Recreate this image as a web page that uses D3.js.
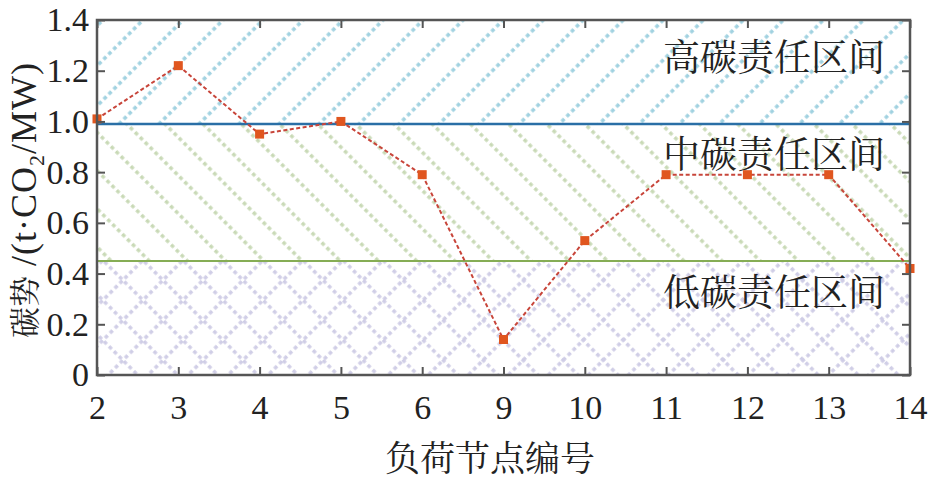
<!DOCTYPE html>
<html><head><meta charset="utf-8">
<script src="https://cdn.jsdelivr.net/npm/d3@7"></script>
<style>body{margin:0;background:#fff}
.serif{font-family:"Liberation Serif","Times New Roman","DejaVu Serif",serif}
.cjk{font-family:"Noto Serif CJK SC","Noto Sans CJK SC",sans-serif}
</style>
</head><body>
<svg id="c" width="947" height="480"></svg>
<script>
const categories = ["2","3","4","5","6","9","10","11","12","13","14"];
const values = [1.01,1.22,0.95,1.00,0.79,0.14,0.53,0.79,0.79,0.79,0.42];
const yTicks = [0,0.2,0.4,0.6,0.8,1.0,1.2,1.4];
const yTickLabels = ["0","0.2","0.4","0.6","0.8","1.0","1.2","1.4"];
const highThreshold = 0.99;
const lowThreshold = 0.45;
const zoneLabels = ["高碳责任区间","中碳责任区间","低碳责任区间"];
const zoneLabelValues = [1.262, 0.879, 0.335];
const xTitle = "负荷节点编号";

const svg = d3.select("#c");
const m = {l:97, r:910, t:20, b:375};
const x = d3.scalePoint().domain(categories).range([m.l, m.r]);
const y = d3.scaleLinear().domain([0,1.4]).range([m.b, m.t]);

const defs = svg.append("defs");
function linePattern(id, color, angle, spacing){
  const p = defs.append("pattern").attr("id", id).attr("patternUnits","userSpaceOnUse")
    .attr("width", spacing).attr("height", 14)
    .attr("patternTransform", `rotate(${angle})`);
  p.append("line").attr("x1",2).attr("x2",2).attr("y1",0).attr("y2",14)
    .attr("stroke", color).attr("stroke-width",3.4).attr("stroke-dasharray","3.8,3.2");
  return p;
}
linePattern("pBlue", "#9fd1e0", 45, 28.3);
linePattern("pGreen", "#c8d9b5", -45, 27);
linePattern("pPurpleA", "#cfcde6", 45, 28.3);
linePattern("pPurpleB", "#cfcde6", -45, 28.3);

const g = svg.append("g");
g.append("rect").attr("x",m.l).attr("width",m.r-m.l).attr("y",y(1.4)).attr("height",y(highThreshold)-y(1.4)).attr("fill","url(#pBlue)");
g.append("rect").attr("x",m.l).attr("width",m.r-m.l).attr("y",y(highThreshold)).attr("height",y(lowThreshold)-y(highThreshold)).attr("fill","url(#pGreen)");
g.append("rect").attr("x",m.l).attr("width",m.r-m.l).attr("y",y(lowThreshold)).attr("height",y(0)-y(lowThreshold)).attr("fill","url(#pPurpleA)");
g.append("rect").attr("x",m.l).attr("width",m.r-m.l).attr("y",y(lowThreshold)).attr("height",y(0)-y(lowThreshold)).attr("fill","url(#pPurpleB)");

g.append("line").attr("x1",m.l).attr("x2",m.r).attr("y1",y(highThreshold)).attr("y2",y(highThreshold))
  .attr("stroke","#2a6fa6").attr("stroke-width",2.5);
g.append("line").attr("x1",m.l).attr("x2",m.r).attr("y1",y(lowThreshold)).attr("y2",y(lowThreshold))
  .attr("stroke","#86ad55").attr("stroke-width",2);

g.selectAll("text.zone").data(zoneLabels).join("text").attr("class","zone cjk")
  .attr("x", 774).attr("y",(d,i)=>y(zoneLabelValues[i]))
  .attr("text-anchor","middle").attr("dominant-baseline","central")
  .attr("font-size",37).attr("fill","#222").text(d=>d);

const line = d3.line().x((d,i)=>x(categories[i])).y(d=>y(d));
g.append("path").datum(values).attr("d",line).attr("fill","none")
  .attr("stroke","#c8453a").attr("stroke-width",2).attr("stroke-dasharray","4,2.5");
g.selectAll("rect.mk").data(values).join("rect").attr("class","mk")
  .attr("x",(d,i)=>x(categories[i])-4.5).attr("y",d=>y(d)-4.5)
  .attr("width",9).attr("height",9).attr("fill","#e0561f");

const axisColor = "#555";
const tl = 8;
function styleText(s){
  s.attr("font-family", null);
  s.selectAll("text").attr("class","serif").attr("font-size",34).attr("fill","#222");
}
const ax = svg.append("g");
ax.append("g").attr("transform",`translate(0,${m.b})`)
  .call(d3.axisBottom(x).tickSizeInner(-tl).tickSizeOuter(0).tickPadding(20))
  .call(s=>{s.select(".domain").remove();
    s.selectAll("line").attr("stroke",axisColor).attr("stroke-width",2); styleText(s);});
ax.append("g").attr("transform",`translate(0,${m.t})`)
  .call(d3.axisTop(x).tickSizeInner(-tl).tickSizeOuter(0).tickFormat(""))
  .call(s=>{s.select(".domain").remove(); s.selectAll("line").attr("stroke",axisColor).attr("stroke-width",2);});
ax.append("g").attr("transform",`translate(${m.l},0)`)
  .call(d3.axisLeft(y).tickValues(yTicks).tickFormat((d,i)=>yTickLabels[i]).tickSizeInner(-tl).tickSizeOuter(0).tickPadding(8))
  .call(s=>{s.select(".domain").remove();
    s.selectAll("line").attr("stroke",axisColor).attr("stroke-width",2); styleText(s);});
ax.append("g").attr("transform",`translate(${m.r},0)`)
  .call(d3.axisRight(y).tickValues(yTicks).tickFormat("").tickSizeInner(-tl).tickSizeOuter(0))
  .call(s=>{s.select(".domain").remove(); s.selectAll("line").attr("stroke",axisColor).attr("stroke-width",2);});
ax.append("rect").attr("x",m.l).attr("y",m.t).attr("width",m.r-m.l).attr("height",m.b-m.t)
  .attr("fill","none").attr("stroke",axisColor).attr("stroke-width",2.5);

svg.append("text").attr("class","cjk").attr("x",490).attr("y",471).attr("text-anchor","middle")
  .attr("font-size",35).attr("fill","#222").text(xTitle);

const yt = svg.append("text").attr("class","serif").attr("transform",`translate(36,200) rotate(-90)`)
  .attr("text-anchor","middle").attr("font-size",36).attr("fill","#222").attr("letter-spacing",1);
yt.append("tspan").attr("class","cjk").attr("font-size",31).attr("letter-spacing",0).text("碳势");
yt.append("tspan").text(" /(t·CO");
yt.append("tspan").attr("font-size",22).attr("dy",8).text("2");
yt.append("tspan").attr("dy",-8).text("/MW)");
</script>
</body></html>
